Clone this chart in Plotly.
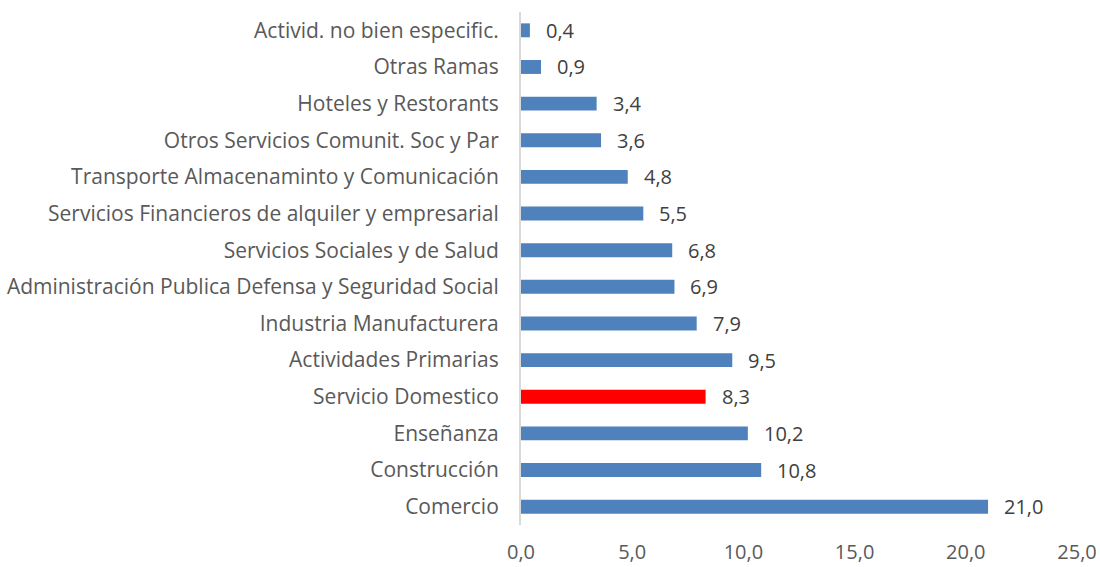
import plotly.graph_objects as go

categories = [
    "Comercio",
    "Construcción",
    "Enseñanza",
    "Servicio Domestico",
    "Actividades Primarias",
    "Industria Manufacturera",
    "Administración Publica Defensa y Seguridad Social",
    "Servicios Sociales y de Salud",
    "Servicios Financieros de alquiler y empresarial",
    "Transporte Almacenaminto y Comunicación",
    "Otros Servicios Comunit. Soc y Par",
    "Hoteles y Restorants",
    "Otras Ramas",
    "Activid. no bien especific.",
]
values = [21.0, 10.8, 10.2, 8.3, 9.5, 7.9, 6.9, 6.8, 5.5, 4.8, 3.6, 3.4, 0.9, 0.4]
highlight = "Servicio Domestico"
x_ticks = [0, 5, 10, 15, 20, 25]

BLUE = "#4F81BD"
RED = "#FF0000"
colors = [RED if c == highlight else BLUE for c in categories]

FONT = "Open Sans"

fig = go.Figure(
    go.Bar(
        x=values,
        y=categories,
        orientation="h",
        marker=dict(color=colors, line=dict(width=0)),
        hoverinfo="skip",
    )
)

for c, v in zip(categories, values):
    fig.add_annotation(
        x=v, y=c, text=f"{v:.1f}".replace(".", ","),
        showarrow=False, xanchor="left", yanchor="middle", xshift=14,
        font=dict(family=FONT, size=20, color="#404040"),
    )

fig.update_layout(
    width=1100, height=567,
    margin=dict(l=521, r=23, t=12, b=42),
    paper_bgcolor="white", plot_bgcolor="white",
    separators=",.",
    bargap=0.62,
    showlegend=False,
    font=dict(family=FONT, size=20, color="#595959"),
)
fig.update_xaxes(
    range=[0, 25], tickvals=x_ticks, tickformat=".1f",
    showgrid=False, zeroline=False, showline=False, ticks="",
    tickfont=dict(family=FONT, size=20, color="#595959"),
    ticklabelstandoff=13, automargin=False,
)
fig.update_yaxes(
    categoryorder="array", categoryarray=categories,
    showgrid=False, zeroline=False,
    showline=True, linecolor="#D9D9D9", linewidth=2,
    ticks="", ticklabelstandoff=16, automargin=False,
    tickfont=dict(family=FONT, size=21, color="#595959"),
)

# Remove the browser's default 8px body margin so the figure fills the window exactly.
fig.write_html(
    "out.html",
    config={"displayModeBar": False, "staticPlot": True},
    post_script="document.body.style.margin='0';document.body.style.overflow='hidden';",
)
